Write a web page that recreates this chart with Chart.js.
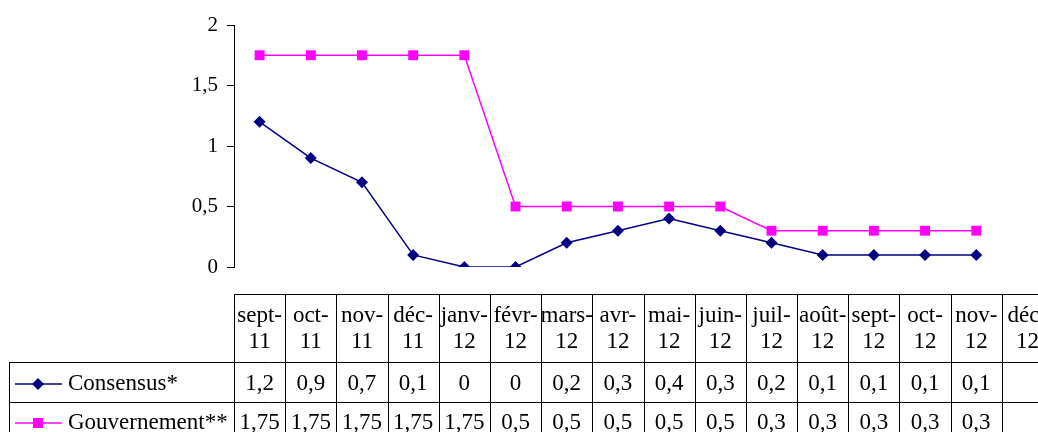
<!DOCTYPE html>
<html lang="fr">
<head>
<meta charset="utf-8">
<script src="https://cdn.jsdelivr.net/npm/chart.js@4"></script>
<style>
  html, body { margin: 0; padding: 0; background: #fff; overflow: hidden; }
  #wrap { position: relative; width: 1060px; height: 450px; }
</style>
</head>
<body>
<div id="wrap"><canvas id="c" width="1060" height="450"></canvas></div>
<script>
// Mois (libellés sur deux lignes dans le tableau de données)
const monthNames = ['sept-', 'oct-', 'nov-', 'déc-', 'janv-', 'févr-', 'mars-', 'avr-', 'mai-', 'juin-', 'juil-', 'août-', 'sept-', 'oct-', 'nov-', 'déc-'];
const yearLabels = ['11', '11', '11', '11', '12', '12', '12', '12', '12', '12', '12', '12', '12', '12', '12', '12'];

// Prévisions de croissance (%)
const consensus = [1.2, 0.9, 0.7, 0.1, 0, 0, 0.2, 0.3, 0.4, 0.3, 0.2, 0.1, 0.1, 0.1, 0.1, null];
const gouvernement = [1.75, 1.75, 1.75, 1.75, 1.75, 0.5, 0.5, 0.5, 0.5, 0.5, 0.3, 0.3, 0.3, 0.3, 0.3, null];

const seriesNames = ['Consensus*', 'Gouvernement**'];
const yTicks = [0, 0.5, 1, 1.5, 2];

const FONT = '"Liberation Serif", "Times New Roman", serif';
const fmt = v => (v === null || v === undefined) ? '' : String(v).replace('.', ',');

// Tableau de données sous le graphique, calé sur l'axe des catégories
const dataTable = {
  id: 'dataTable',
  afterDraw(chart) {
    const ctx = chart.ctx;
    const x = chart.scales.x;
    const n = chart.data.labels.length;
    const half = (x.getPixelForValue(1) - x.getPixelForValue(0)) / 2;
    const left = x.getPixelForValue(0) - half;
    const right = x.getPixelForValue(n - 1) + half;
    const top = 294, headBottom = 362, row1 = 402, row2 = 442;
    const tableLeft = 9.5;

    ctx.save();
    ctx.strokeStyle = '#000';
    ctx.lineWidth = 1;
    ctx.beginPath();
    // lignes horizontales
    ctx.moveTo(Math.round(left) + 0.5, top + 0.5); ctx.lineTo(right, top + 0.5);
    ctx.moveTo(tableLeft, headBottom + 0.5); ctx.lineTo(right, headBottom + 0.5);
    ctx.moveTo(tableLeft, row1 + 0.5); ctx.lineTo(right, row1 + 0.5);
    ctx.moveTo(tableLeft, row2 + 0.5); ctx.lineTo(right, row2 + 0.5);
    // bord gauche de la légende
    ctx.moveTo(tableLeft, headBottom); ctx.lineTo(tableLeft, row2 + 1);
    // séparations des colonnes
    for (let i = 0; i <= n; i++) {
      const cx = Math.round(left + i * 2 * half) + 0.5;
      ctx.moveTo(cx, top); ctx.lineTo(cx, row2 + 1);
    }
    ctx.stroke();

    ctx.fillStyle = '#000';
    ctx.font = '23px ' + FONT;
    ctx.textAlign = 'center';
    ctx.textBaseline = 'middle';
    const ds = chart.data.datasets;
    for (let i = 0; i < n; i++) {
      const cx = x.getPixelForValue(i);
      ctx.fillText(monthNames[i], cx, 316);
      ctx.fillText(yearLabels[i], cx, 342);
      ctx.fillText(fmt(ds[0].data[i]), cx, 384);
      ctx.fillText(fmt(ds[1].data[i]), cx, 423);
    }

    // clés de légende
    const rowsY = [384, 423];
    ds.forEach((d, k) => {
      const y = rowsY[k];
      ctx.strokeStyle = d.borderColor;
      ctx.lineWidth = 1.5;
      ctx.beginPath();
      ctx.moveTo(15, y); ctx.lineTo(62, y);
      ctx.stroke();
      ctx.fillStyle = d.pointBackgroundColor;
      ctx.beginPath();
      if (d.pointStyle === 'rectRot') {
        ctx.moveTo(38, y - 6); ctx.lineTo(44, y); ctx.lineTo(38, y + 6); ctx.lineTo(32, y);
        ctx.closePath();
      } else {
        ctx.rect(33, y - 5, 10, 10);
      }
      ctx.fill();
      ctx.fillStyle = '#000';
      ctx.textAlign = 'left';
      ctx.fillText(seriesNames[k], 68, y);
    });
    ctx.restore();
  }
};

new Chart(document.getElementById('c'), {
  type: 'line',
  data: {
    labels: monthNames.map((m, i) => m + yearLabels[i]),
    datasets: [
      {
        label: seriesNames[0],
        data: consensus,
        borderColor: '#000080',
        backgroundColor: '#000080',
        pointBackgroundColor: '#000080',
        pointBorderColor: '#000080',
        pointStyle: 'rectRot',
        pointRadius: 6,
        pointBorderWidth: 0,
        borderWidth: 1.5,
        tension: 0
      },
      {
        label: seriesNames[1],
        data: gouvernement,
        borderColor: '#FF00FF',
        backgroundColor: '#FF00FF',
        pointBackgroundColor: '#FF00FF',
        pointBorderColor: '#FF00FF',
        pointStyle: 'rect',
        pointRadius: 7,
        pointBorderWidth: 0,
        borderWidth: 1.5,
        tension: 0
      }
    ]
  },
  options: {
    responsive: false,
    animation: false,
    layout: { padding: { left: 0, right: 7, top: 25, bottom: 183 } },
    plugins: { legend: { display: false }, tooltip: { enabled: false } },
    scales: {
      x: {
        display: false,
        offset: true
      },
      y: {
        min: 0,
        max: 2,
        afterBuildTicks: s => { s.ticks = yTicks.map(v => ({ value: v })); },
        afterFit: s => { s.width = 234; },
        border: { display: true, color: '#000', width: 1 },
        grid: { drawOnChartArea: false, drawTicks: true, tickLength: 7, color: '#000' },
        ticks: {
          color: '#000',
          padding: 9,
          font: { family: FONT, size: 21 },
          callback: v => fmt(v)
        }
      }
    }
  },
  plugins: [dataTable]
});
</script>
</body>
</html>
